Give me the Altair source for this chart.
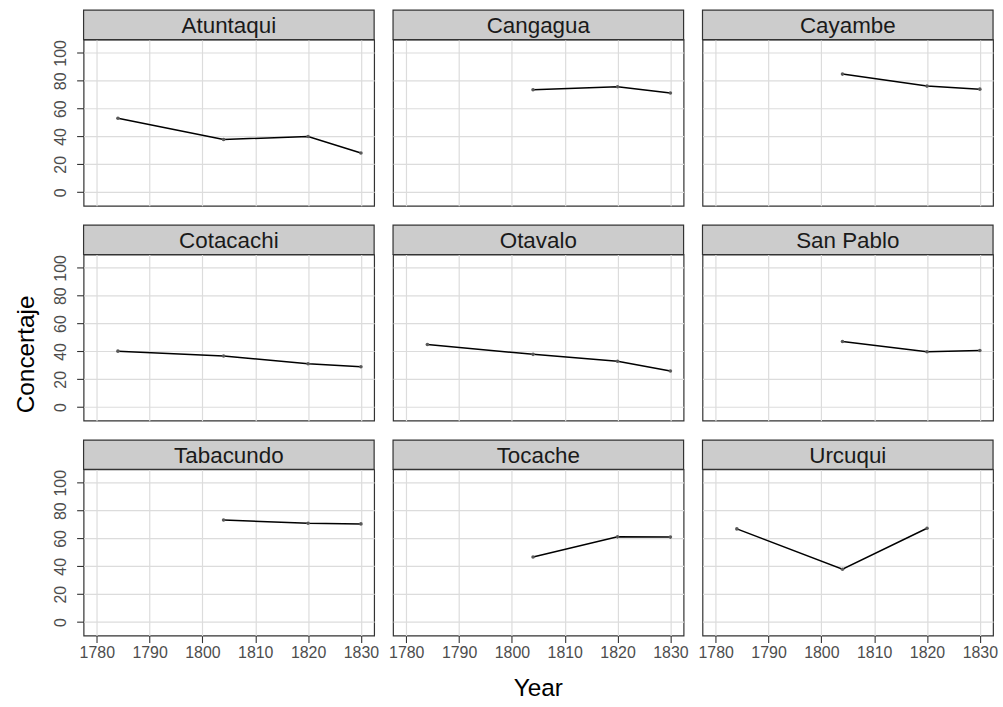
import altair as alt
import pandas as pd

# Census years and share of "concertaje" per town (percent)
years = [1784, 1804, 1820, 1830]
towns = ["Atuntaqui", "Cangagua", "Cayambe", "Cotacachi", "Otavalo",
         "San Pablo", "Tabacundo", "Tocache", "Urcuqui"]
atuntaqui = [53.1, 37.9, 40.0, 28.2]
cangagua = [None, 73.6, 75.7, 71.2]
cayambe = [None, 84.8, 76.2, 74.0]
cotacachi = [40.2, 36.7, 31.2, 29.0]
otavalo = [45.0, 37.9, 32.9, 26.0]
san_pablo = [None, 47.1, 39.8, 40.7]
tabacundo = [None, 73.3, 71.0, 70.5]
tocache = [None, 46.7, 61.2, 61.0]
urcuqui = [66.9, 37.9, 67.4, None]

x_ticks = [1780, 1790, 1800, 1810, 1820, 1830]
y_ticks = [0, 20, 40, 60, 80, 100]

series = [atuntaqui, cangagua, cayambe, cotacachi, otavalo,
          san_pablo, tabacundo, tocache, urcuqui]

rows = []
for town, vals in zip(towns, series):
    for yr, v in zip(years, vals):
        if v is not None:
            rows.append({"town": town, "year": yr, "pct": v})
df = pd.DataFrame(rows)

FONT = "Liberation Sans"
PANEL_W = 292
PANEL_H = 167
STRIP_H = 29.5
TITLE_SIZE = 24.5

x_enc = alt.X("year:Q", title=None,
              scale=alt.Scale(domain=[1777.5, 1832.5], nice=False, zero=False),
              axis=alt.Axis(values=x_ticks, tickCount=len(x_ticks), format="d",
                            labelOverlap=False))
y_enc = alt.Y("pct:Q", title=None,
              scale=alt.Scale(domain=[-9.7, 109.6], nice=False, zero=False),
              axis=alt.Axis(values=y_ticks, tickCount=len(y_ticks), labelOverlap=False,
                            labelAngle=270, labelAlign="center",
                            labelBaseline="alphabetic", labelPadding=11.5))

line = alt.Chart().mark_line(color="black", strokeWidth=1.5).encode(
    x=x_enc, y=y_enc
)
pts = alt.Chart().mark_circle(color="#5a5a5a", size=13, opacity=1).encode(
    x="year:Q", y="pct:Q"
)

# grey strip with the town name above every panel
strip = alt.Chart().transform_aggregate(
    n="count()", groupby=["town"]
).mark_rect(fill="#cccccc", stroke="#333333", strokeWidth=1.2).encode(
    x=alt.value(0), x2=alt.value(PANEL_W),
    y=alt.value(-STRIP_H), y2=alt.value(0)
)
strip_txt = alt.Chart().transform_aggregate(
    n="count()", groupby=["town"]
).mark_text(font=FONT, fontSize=22.5, color="#1a1a1a", baseline="middle",
            align="center").encode(
    x=alt.value(PANEL_W / 2), y=alt.value(-STRIP_H / 2 + 1),
    text="town:N"
)

chart = alt.layer(line, pts, strip, strip_txt, data=df).properties(
    width=PANEL_W, height=PANEL_H
).facet(
    facet=alt.Facet(
        "town:N", sort=towns,
        header=alt.Header(
            title="Year", titleOrient="bottom", titleFont=FONT, titleFontSize=TITLE_SIZE,
            titleFontWeight="normal", titleColor="black", titlePadding=17,
            labels=False, labelExpr="''", labelFontSize=1, labelPadding=0,
        ),
    ),
    columns=3,
    spacing={"row": 49, "column": 19},
    bounds="flush",
).properties(
    title=alt.TitleParams(
        "Concertaje", orient="left", anchor="middle", font=FONT, fontSize=TITLE_SIZE,
        fontWeight="normal", color="black", offset=13,
    ),
    padding={"left": 13, "top": 6, "right": 5, "bottom": 5},
).configure_header(
    labels=False
).configure_view(
    stroke="#333333", strokeWidth=1.2
).configure_axis(
    grid=True, gridColor="#dcdcdc", gridWidth=1.2,
    domain=False, labelOverlap=False,
    tickColor="#333333", tickSize=7, tickWidth=1.1,
    labelFont=FONT, labelFontSize=16, labelColor="#4d4d4d",
).configure_axisBottom(
    labelPadding=2,
)

chart.save("out.html", embed_options={"renderer": "svg", "actions": False})
